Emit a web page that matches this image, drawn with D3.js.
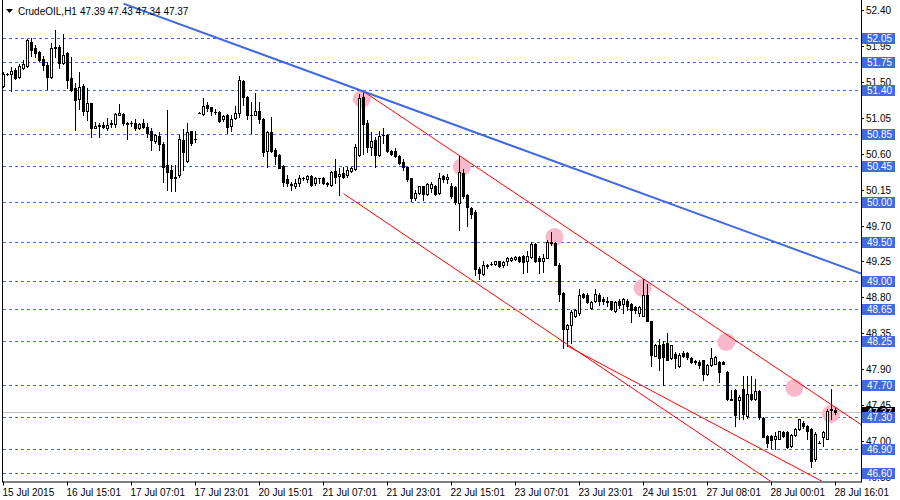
<!DOCTYPE html>
<html>
<head>
<meta charset="utf-8">
<script src="https://cdnjs.cloudflare.com/ajax/libs/d3/7.8.5/d3.min.js"></script>
<style>
  body { margin: 0; background: #fff; }
  svg { display: block; }
  text { font-family: "Liberation Sans", Arial, sans-serif; }
</style>
</head>
<body>
<div id="chart"></div>
<script>
////////////////////////////////////////////////////////////////////////
// Data (one value per hourly bar)

let opens = [
  51.45,51.60,51.60,51.65,51.56,51.67,51.70,52.00,51.93,51.88,
  51.79,51.71,51.56,51.93,51.94,51.74,51.86,51.55,51.42,51.28,
  51.45,51.14,51.23,50.92,50.95,50.96,50.92,50.97,50.97,51.09,
  51.10,50.98,50.98,50.98,50.92,50.98,50.93,50.89,50.76,50.82,
  50.72,50.46,50.40,50.30,50.33,50.77,50.51,50.88,50.79,51.11,
  51.10,51.21,51.18,51.12,51.12,51.03,51.09,50.95,51.05,51.11,
  51.51,51.31,51.09,51.09,51.13,51.04,50.63,50.87,50.65,50.59,
  50.45,50.28,50.22,50.20,50.23,50.29,50.28,50.32,50.23,50.29,
  50.30,50.23,50.21,50.38,50.32,50.36,50.33,50.38,50.41,50.58,
  51.31,50.99,50.68,50.77,50.58,50.83,50.84,50.64,50.63,50.57,
  50.50,50.44,50.29,50.04,50.11,50.19,50.10,50.17,50.19,50.11,
  50.32,50.28,50.19,50.18,49.98,50.36,50.08,49.92,49.87,49.16,
  49.09,49.19,49.22,49.22,49.25,49.20,49.25,49.27,49.28,49.31,
  49.32,49.26,49.31,49.47,49.30,49.26,49.30,49.49,49.48,49.21,
  48.86,48.41,48.45,48.57,48.60,48.84,48.83,48.67,48.76,48.83,
  48.78,48.76,48.75,48.63,48.75,48.72,48.76,48.72,48.68,48.60,
  48.57,48.83,48.50,48.07,48.20,48.22,48.23,48.04,48.09,47.94,
  48.10,48.10,48.04,47.99,47.99,48.01,47.84,47.95,47.97,47.99,
  47.99,47.87,47.53,47.64,47.51,47.65,47.31,47.59,47.53,47.63,
  47.29,47.07,47.07,47.02,47.03,47.11,47.11,46.94,47.08,47.15,
  47.23,47.19,47.15,46.77,46.98,47.05,47.03,47.39,47.39
];
let highs = [
  51.62,51.61,51.69,51.67,51.73,51.77,52.04,52.05,51.96,51.89,
  51.83,51.75,51.99,52.15,51.96,52.10,51.87,51.81,51.48,51.63,
  51.47,51.42,51.23,51.00,50.98,51.00,51.05,51.02,51.11,51.22,
  51.11,51.00,51.01,51.04,50.99,51.04,50.98,50.92,50.85,50.87,
  50.75,51.15,50.46,50.46,50.83,50.91,50.98,50.89,50.88,51.12,
  51.30,51.25,51.19,51.16,51.13,51.09,51.10,51.08,51.20,51.57,
  51.52,51.32,51.25,51.36,51.25,51.05,50.89,51.06,50.67,50.60,
  50.46,50.33,50.25,50.28,50.33,50.31,50.33,50.33,50.31,50.30,
  50.31,50.25,50.38,50.54,50.42,50.44,50.44,50.44,50.72,51.35,
  51.38,51.02,50.87,50.81,50.89,50.92,50.85,50.65,50.67,50.58,
  50.53,50.44,50.30,50.14,50.20,50.20,50.23,50.25,50.21,50.36,
  50.33,50.35,50.23,50.20,50.57,50.41,50.10,49.93,49.89,49.18,
  49.26,49.22,49.24,49.26,49.26,49.26,49.31,49.31,49.32,49.32,
  49.33,49.38,49.50,49.48,49.32,49.35,49.52,49.62,49.49,49.23,
  48.87,48.47,48.64,48.66,48.91,48.85,48.85,48.76,48.91,48.85,
  48.80,48.81,48.76,48.75,48.78,48.79,48.78,48.73,48.69,48.69,
  49.03,48.97,48.51,48.22,48.28,48.25,48.36,48.21,48.11,48.10,
  48.13,48.12,48.05,48.01,48.01,48.02,47.96,48.17,48.06,48.00,
  48.00,47.88,47.64,47.65,47.58,47.82,47.82,47.82,47.78,47.64,
  47.30,47.08,47.08,47.11,47.13,47.13,47.13,47.09,47.17,47.28,
  47.25,47.20,47.16,47.11,47.00,47.13,47.40,47.65,47.43
];
let lows = [
  51.44,51.59,51.39,51.54,51.55,51.66,51.69,51.82,51.81,51.76,
  51.65,51.41,51.55,51.81,51.67,51.73,51.42,51.38,50.90,51.16,
  51.09,51.02,50.81,50.92,50.81,50.92,50.90,50.94,50.93,51.08,
  50.96,50.78,50.95,50.90,50.91,50.92,50.81,50.65,50.73,50.65,
  50.24,50.15,50.13,50.13,50.31,50.40,50.50,50.71,50.75,51.11,
  51.08,51.14,51.08,51.10,51.00,51.01,50.86,50.88,51.04,51.06,
  51.21,51.03,50.86,51.08,50.99,50.57,50.43,50.62,50.47,50.42,
  50.19,50.20,50.15,50.17,50.20,50.27,50.25,50.20,50.21,50.23,
  50.22,50.20,50.20,50.23,50.08,50.29,50.31,50.37,50.40,50.57,
  50.60,50.62,50.58,50.44,50.57,50.74,50.62,50.58,50.56,50.47,
  50.39,50.26,50.01,50.02,50.10,50.02,50.08,50.12,50.08,50.10,
  50.24,50.23,50.05,49.97,49.65,50.04,49.70,49.79,49.08,49.03,
  49.08,49.17,49.20,49.21,49.18,49.18,49.20,49.26,49.27,49.24,
  49.10,49.12,49.30,49.24,49.10,49.12,49.29,49.46,49.21,48.76,
  48.17,48.19,48.23,48.55,48.58,48.79,48.73,48.65,48.74,48.71,
  48.72,48.69,48.64,48.62,48.67,48.60,48.64,48.49,48.61,48.57,
  48.57,48.50,47.94,48.06,47.89,47.70,48.01,48.03,47.91,47.93,
  48.05,48.03,47.98,47.97,47.92,47.77,47.83,47.94,47.96,47.74,
  47.96,47.51,47.51,47.19,47.28,47.28,47.29,47.51,47.52,47.28,
  47.05,46.92,46.91,46.90,47.02,47.05,46.91,46.92,47.07,47.14,
  47.17,47.03,46.67,46.75,46.97,46.94,47.03,47.28,47.34
];
let closes = [
  51.60,51.60,51.64,51.55,51.70,51.72,52.02,51.90,51.86,51.77,
  51.71,51.56,51.93,51.94,51.74,51.84,51.53,51.40,51.27,51.44,
  51.14,51.23,50.92,50.95,50.96,50.93,50.96,50.98,51.10,51.11,
  50.98,50.97,50.98,50.92,50.97,50.93,50.86,50.77,50.83,50.72,
  50.44,50.37,50.29,50.31,50.78,50.62,50.87,50.73,50.79,51.11,
  51.20,51.17,51.13,51.12,51.01,51.07,50.94,51.04,51.11,51.53,
  51.31,51.08,51.09,51.13,51.04,50.62,50.87,50.63,50.57,50.42,
  50.25,50.23,50.21,50.23,50.29,50.29,50.32,50.21,50.29,50.29,
  50.23,50.22,50.37,50.31,50.35,50.31,50.40,50.42,50.68,51.30,
  50.97,50.68,50.76,50.58,50.82,50.83,50.63,50.60,50.57,50.48,
  50.43,50.28,50.05,50.11,50.19,50.10,50.22,50.22,50.10,50.29,
  50.28,50.31,50.07,49.99,50.37,50.07,49.93,49.84,49.15,49.10,
  49.21,49.21,49.22,49.25,49.19,49.24,49.29,49.30,49.31,49.26,
  49.24,49.32,49.47,49.26,49.25,49.30,49.49,49.48,49.21,48.84,
  48.41,48.45,48.62,48.64,48.83,48.81,48.74,48.74,48.84,48.76,
  48.75,48.74,48.66,48.74,48.71,48.78,48.69,48.64,48.64,48.68,
  48.83,48.51,48.08,48.20,48.04,48.05,48.02,48.20,48.04,48.08,
  48.07,48.05,47.99,48.00,47.95,47.84,47.95,48.04,48.05,47.86,
  47.97,47.53,47.52,47.33,47.55,47.34,47.59,47.53,47.63,47.30,
  47.05,46.98,47.01,47.06,47.13,47.06,46.93,47.08,47.15,47.28,
  47.19,47.13,46.75,47.09,46.98,47.11,47.38,47.40,47.37
];

// time axis: one label every 16 bars
let timeTickIdx = [0,16,32,48,64,80,96,112,128,144,160,176,192,208];
let timeLabels = ["15 Jul 2015","16 Jul 15:01","17 Jul 07:01","17 Jul 23:01",
  "20 Jul 15:01","21 Jul 07:01","21 Jul 23:01","22 Jul 15:01","23 Jul 07:01",
  "23 Jul 23:01","24 Jul 15:01","27 Jul 08:01","28 Jul 00:01","28 Jul 16:01"];

// price axis ticks
let priceTicks = [52.40,51.95,51.50,51.05,50.60,50.15,49.70,49.25,48.80,48.35,47.90,47.45,47.00,46.55];

// horizontal levels drawn as dashed lines with blue price boxes
let levels = [52.05,51.75,51.40,50.85,50.45,50.00,49.50,49.00,48.65,48.25,47.70,47.30,46.90,46.60];

// current bid
let bid = 47.37;

// trend lines: [bar, price] anchors, drawn as rays to the right
let blueTrend = [[30, 52.48], [90, 51.38]];
let redUpper  = [[90, 51.38], [200, 47.69]];
let redLower1 = [[85, 50.10], [141, 48.21]];
let redLower2 = [[141, 48.19], [200, 46.62]];

// highlighted touches (pink circles)
let touchIdx   = [89.6, 114.6, 137.75, 159.75, 180.7, 197.7, 206.85];
let touchPrice = [51.29, 50.44, 49.56, 48.92, 48.24, 47.66, 47.34];

////////////////////////////////////////////////////////////////////////
// Layout

let W = 900, H = 500;
let plotRight = 861, plotBottom = 481;
let nBars = opens.length;

let svg = d3.select("#chart").append("svg")
  .attr("width", W).attr("height", H)
  .style("background", "#fff");

let xScale = d3.scaleLinear().domain([0, 208]).range([3, 835]).interpolate(d3.interpolateRound);
let yScale = d3.scaleLinear().domain([46.50, 52.526]).range([481, 0]).interpolate(d3.interpolateRound);

svg.append("clipPath").attr("id", "plotClip")
  .append("rect").attr("x", 3).attr("y", 2).attr("width", plotRight - 3).attr("height", plotBottom - 2);

// dashed level lines
svg.append("g").attr("class", "levels")
  .selectAll("line").data(levels).enter().append("line")
  .attr("x1", 3).attr("x2", plotRight)
  .attr("y1", d => yScale(d) + 0.5).attr("y2", d => yScale(d) + 0.5)
  .attr("stroke", "#4169E1").attr("stroke-width", 1)
  .attr("stroke-dasharray", "3,3");

// bid line
svg.append("line")
  .attr("x1", 3).attr("x2", plotRight)
  .attr("y1", yScale(bid) + 0.5).attr("y2", yScale(bid) + 0.5)
  .attr("stroke", "#C0C0C0").attr("stroke-width", 1);

// pink circles (background objects)
svg.append("g").attr("class", "touches")
  .selectAll("circle").data(touchIdx).enter().append("circle")
  .attr("cx", d => 3.5 + (d * 4))
  .attr("cy", (d, i) => yScale(touchPrice[i]))
  .attr("r", 9)
  .attr("fill", "#F9B9CB");

// candles
let bars = d3.range(nBars);
let cg = svg.append("g").attr("class", "candles").attr("shape-rendering", "crispEdges");

cg.selectAll(".wick").data(bars).enter().append("rect")
  .attr("class", "wick")
  .attr("x", i => xScale(i))
  .attr("y", i => yScale(highs[i]))
  .attr("width", 1)
  .attr("height", i => yScale(lows[i]) - yScale(highs[i]) + 1)
  .attr("fill", "#000");

cg.selectAll(".body").data(bars).enter().append("rect")
  .attr("class", "body")
  .attr("x", i => xScale(i) - 1)
  .attr("y", i => yScale(Math.max(opens[i], closes[i])))
  .attr("width", 3)
  .attr("height", i => yScale(Math.min(opens[i], closes[i])) - yScale(Math.max(opens[i], closes[i])) + 1)
  .attr("fill", "#000");

// hollow inside for bullish candles
cg.selectAll(".hollow").data(bars.filter(i => closes[i] > opens[i] &&
    yScale(opens[i]) - yScale(closes[i]) > 1))
  .enter().append("rect")
  .attr("class", "hollow")
  .attr("x", i => xScale(i))
  .attr("y", i => yScale(closes[i]) + 1)
  .attr("width", 1)
  .attr("height", i => yScale(opens[i]) - yScale(closes[i]) - 1)
  .attr("fill", "#fff");

// trend lines as rays
function ray(anchors, endBar) {
  let [a, b] = anchors;
  let slope = (b[1] - a[1]) / (b[0] - a[0]);
  let endPrice = a[1] + slope * (endBar - a[0]);
  return [[3.5 + a[0] * 4, yScale.copy().interpolate(d3.interpolateNumber)(a[1])],
          [3.5 + endBar * 4, yScale.copy().interpolate(d3.interpolateNumber)(endPrice)]];
}

let tg = svg.append("g").attr("clip-path", "url(#plotClip)");
let lineGen = d3.line();

tg.append("path").attr("d", lineGen(ray(redUpper, 230)))
  .attr("stroke", "#FF0000").attr("stroke-width", 1).attr("fill", "none");
tg.append("path").attr("d", lineGen(ray(redLower1, 230)))
  .attr("stroke", "#FF0000").attr("stroke-width", 1).attr("fill", "none");
tg.append("path").attr("d", lineGen(ray(redLower2, 230)))
  .attr("stroke", "#FF0000").attr("stroke-width", 1).attr("fill", "none");
tg.append("path").attr("d", lineGen(ray(blueTrend, 230)))
  .attr("stroke", "#4169E1").attr("stroke-width", 2).attr("fill", "none");

// left border
svg.append("line").attr("x1", 2.5).attr("x2", 2.5).attr("y1", 0).attr("y2", plotBottom + 1)
  .attr("stroke", "#000");

// bottom time axis
let xAxis = d3.axisBottom(xScale)
  .tickValues(timeTickIdx)
  .tickFormat((d, i) => timeLabels[i])
  .tickSize(4).tickSizeOuter(0).tickPadding(3);

let gx = svg.append("g")
  .attr("transform", `translate(0,${plotBottom + 0.5})`)
  .call(xAxis);
gx.select(".domain").attr("d", `M2,0.5H${plotRight + 1}`).attr("stroke", "#000");
gx.selectAll(".tick line").attr("stroke", "#000");
gx.selectAll(".tick text")
  .attr("text-anchor", "start").attr("x", -1)
  .attr("font-size", 10).attr("fill", "#000").attr("font-family", null);

// right price axis
let yAxis = d3.axisRight(yScale)
  .tickValues(priceTicks)
  .tickFormat(d3.format(".2f"))
  .tickSize(3).tickSizeOuter(0).tickPadding(2);

let gy = svg.append("g")
  .attr("transform", `translate(${plotRight},0)`)
  .call(yAxis);
gy.select(".domain").attr("d", `M0.5,0V${plotBottom + 1}`).attr("stroke", "#000");
gy.selectAll(".tick line").attr("stroke", "#000");
gy.selectAll(".tick text").attr("font-size", 10).attr("fill", "#000").attr("font-family", null);

// current price box
let bidG = svg.append("g").attr("transform", `translate(${plotRight + 1},${yScale(bid)})`);
bidG.append("rect").attr("x", 0).attr("y", -5).attr("width", 33).attr("height", 11).attr("fill", "#000");
bidG.append("text").attr("x", 5).attr("y", 4).attr("font-size", 10).attr("fill", "#fff").text(bid.toFixed(2));

// level price boxes
let lb = svg.append("g").selectAll("g").data(levels).enter().append("g")
  .attr("transform", d => `translate(${plotRight + 1},${yScale(d)})`);
lb.append("rect").attr("x", 0).attr("y", -5).attr("width", 33).attr("height", 11).attr("fill", "#4169E1");
lb.append("text").attr("x", 5).attr("y", 4).attr("font-size", 10).attr("fill", "#fff")
  .text(d => d.toFixed(2));

// title
svg.append("path").attr("d", "M6,9H13L9.5,13Z").attr("fill", "#000");
svg.append("text").attr("x", 18).attr("y", 15).attr("font-size", 10).attr("fill", "#000")
  .text("CrudeOIL,H1");
svg.append("text").attr("x", 80).attr("y", 15).attr("font-size", 10).attr("fill", "#000")
  .text([opens[nBars - 1], highs[nBars - 1], lows[nBars - 1], closes[nBars - 1]].map(v => v.toFixed(2)).join(" "));
</script>
</body>
</html>
